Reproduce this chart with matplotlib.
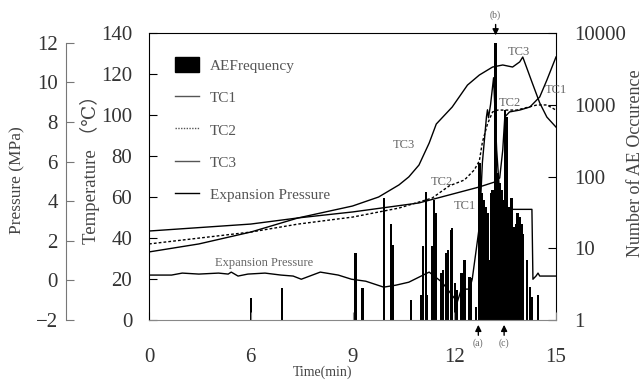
import numpy as np
import matplotlib
matplotlib.use('Agg')
from matplotlib import pyplot as plt
from matplotlib.patches import Patch
from matplotlib.lines import Line2D

plt.rcParams['font.family'] = ['Liberation Serif', 'DejaVu Serif', 'Noto Sans CJK JP']

# --- data ---
ae_time = [6.00, 6.92, 9.09, 9.30, 9.92, 10.13, 10.19, 10.72, 11.02, 11.08, 11.17, 11.20,
           11.35, 11.41, 11.47, 11.61, 11.67, 11.76, 11.82, 11.91, 11.94, 12.03, 12.09,
           12.21, 12.30, 12.45, 12.50, 12.65, 12.74, 12.80, 12.86, 12.92, 12.98, 13.04,
           13.10, 13.13, 13.22, 13.28, 13.34, 13.40, 13.46, 13.49, 13.54, 13.57, 13.63,
           13.69, 13.72, 13.78, 13.84, 13.87, 13.93, 13.99, 14.02, 14.14, 14.23, 14.29, 14.47]
ae_count = [2, 2.8, 8.6, 2.8, 50, 22, 11, 1.9, 2.2, 10.7, 61, 2.2,
            10.7, 47, 31, 4.5, 5, 8.6, 9.5, 18, 19, 3.3, 2.6,
            4.5, 6.9, 4, 3.8, 1.5, 154, 59, 47, 38, 31, 6.9,
            59, 65, 7250, 112, 81, 65, 47, 845, 676, 31, 38,
            50, 14, 20, 22, 31, 27, 22, 16, 6.9, 2.9, 2.1, 2.2]

tc1_time = [0, 6, 7.40, 9, 10.96, 12.74, 13.19, 13.34, 13.43, 13.49, 13.63, 13.93, 14.23, 14.52, 14.73, 15]
tc1_temp = [43.4, 46.8, 49.8, 52.7, 57.1, 64.9, 67.3, 69.3, 82.9, 99.0, 101.5, 102.4, 103.9, 108.8, 117.0, 128.3]

tc2_time = [0, 6, 7.40, 9, 10.37, 11.35, 11.85, 12.30, 12.59, 12.74, 12.83, 12.98, 13.13, 13.28, 13.84, 14.08, 14.44, 14.73, 15]
tc2_temp = [37.1, 42.9, 46.8, 50.2, 54.6, 59.5, 65.4, 68.3, 73.2, 77.6, 86.8, 95.6, 101.5, 102.4, 102.4, 103.4, 104.9, 104.9, 102.4]

tc3_time = [0, 2.94, 6, 7.40, 9, 9.77, 10.37, 10.66, 10.96, 11.26, 11.47, 11.94, 12.39, 12.74,
            13.13, 13.43, 13.72, 13.93, 14.02, 14.29, 14.52, 14.73, 15]
tc3_temp = [33.2, 37.1, 42.9, 49.8, 55.6, 60.0, 65.9, 69.8, 75.6, 86.3, 95.6, 103.9, 114.6, 119.5,
            123.4, 124.4, 123.4, 125.9, 128.3, 116.1, 105.9, 99.0, 94.1]

p_time = [0, 1.33, 1.96, 2.94, 4.10, 4.67, 4.85, 5.25, 5.83, 6.42, 6.89, 7.25, 7.49, 8.05, 8.58,
          8.97, 9.39, 9.92, 10.28, 10.66, 11.26, 11.64, 12.09, 12.21, 12.45, 12.53, 12.65, 12.74,
          12.83, 12.95, 12.98, 13.01, 13.07, 13.16, 13.25, 13.40, 13.54, 13.69, 14.29, 14.32,
          14.41, 14.47, 14.52, 15]
p_mpa = [0.27, 0.27, 0.37, 0.32, 0.37, 0.32, 0.42, 0.22, 0.32, 0.37, 0.27, 0.22, 0.06, 0.42, 0.27,
         0.06, -0.04, -0.34, -0.24, -0.09, 0.42, -0.09, -1.09, -0.44, -0.44, 0.06, 1.58, 2.73,
         5.96, 8.27, 8.62, 8.22, 8.88, 10.24, 6.61, 2.83, 3.09, 3.59, 3.59, 0.06,
         0.22, 0.37, 0.22, 0.22]

x_ticks = [0, 6, 9, 12, 15]
temp_ticks = [0, 20, 40, 60, 80, 100, 120, 140]
p_ticks = [-2, 0, 2, 4, 6, 8, 10, 12]
ae_ticks = [1, 10, 100, 1000, 10000]


# time axis: 0-6 squeezed into the same width as 6-9, 9-12, 12-15
def fwd(x):
    x = np.asarray(x, dtype=float)
    return np.where(x < 6, x / 6.0, 1 + (x - 6) / 3.0)


def inv(u):
    u = np.asarray(u, dtype=float)
    return np.where(u < 1, u * 6.0, 6 + (u - 1) * 3.0)


txt = '#333333'
grey = '#666666'

fig = plt.figure(figsize=(6.44, 3.81), dpi=100)
ax = fig.add_axes([149 / 644, 1 - 320 / 381, 407 / 644, 287 / 381])
ax.set_xscale('function', functions=(fwd, inv))
axb = ax.twinx()
axp = ax.twinx()
axb.set_zorder(1)
ax.set_zorder(2)
axp.set_zorder(3)
ax.patch.set_visible(False)
axp.patch.set_visible(False)

# AE bars (log scale, from 1)
axb.bar(ae_time, np.array(ae_count) - 1, bottom=1, width=0.07, color='black', linewidth=0)
axb.set_yscale('log')
axb.set_ylim(1, 10000)
axb.set_yticks(ae_ticks)
axb.set_yticklabels(['1', '10', '100', '1000', '10000'])
axb.yaxis.set_minor_locator(plt.NullLocator())
axb.tick_params(axis='y', direction='in', length=6, pad=13, labelsize=15, labelcolor=txt)
for s in ['left', 'top', 'bottom']:
    axb.spines[s].set_visible(False)

# temperatures
ax.plot(tc1_time, tc1_temp, color='black', lw=1.0)
ax.plot(tc2_time, tc2_temp, color='black', lw=1.0, ls=(0, (2, 1.5)))
ax.plot(tc3_time, tc3_temp, color='black', lw=1.0)
ax.set_ylim(0, 140)
ax.set_yticks(temp_ticks)
ax.set_xlim(0, 15)
ax.set_xticks(x_ticks)
ax.xaxis.set_minor_locator(plt.NullLocator())
ax.tick_params(axis='y', direction='in', length=6, pad=12, labelsize=15, labelcolor=txt)
ax.tick_params(axis='x', direction='in', length=6, pad=20, labelsize=15, labelcolor=txt, color='#888888')
ax.spines['bottom'].set_color('#888888')
ax.spines['right'].set_visible(False)

# expansion pressure on an offset left axis
axp.plot(p_time, p_mpa, color='black', lw=1.0)
axp.set_ylim(-1.95, 12.5)
axp.set_yticks(p_ticks)
axp.yaxis.tick_left()
for s in ['right', 'top', 'bottom']:
    axp.spines[s].set_visible(False)
axp.spines['left'].set_visible(True)
axp.spines['left'].set_position(('outward', 83 * 0.72))
axp.spines['left'].set_bounds(-2, 12)
axp.spines['left'].set_color('#777777')
axp.tick_params(axis='y', direction='in', length=6, pad=6, labelsize=15, labelcolor=txt, color='#777777')

# axis titles
fig.text(17 / 644, 1 - 180 / 381, 'Pressure (MPa)', rotation=90, ha='center', va='center',
         fontsize=12.5, color='#444444')
fig.text(90 / 644, 1 - 165 / 381, 'Temperature （℃）', rotation=90, ha='center', va='center',
         fontsize=13.5, color='#444444')
fig.text(635 / 644, 1 - 163 / 381, 'Number of AE Occurence', rotation=90, ha='center', va='center',
         fontsize=13, color='#444444')
fig.text(323 / 644, 1 - 372 / 381, 'Time(min)', ha='center', va='center', fontsize=10, color='#444444')

# curve labels
for x, y, s in [(10.51, 85.4, 'TC3'), (11.64, 67.3, 'TC2'), (12.30, 55.6, 'TC1'),
                (13.9, 130.7, 'TC3'), (13.63, 105.9, 'TC2'), (15.0, 112, 'TC1')]:
    ax.text(x, y, s, fontsize=9, color=grey, ha='center', va='center')
ax.text(6.39, 27.8, 'Expansion Pressure', fontsize=9, color=grey, ha='center', va='center')

# event markers
for x, s in [(12.71, '(a)'), (13.47, '(c)')]:
    ax.annotate('', xy=(x, -1), xytext=(x, -8.8), annotation_clip=False,
                arrowprops=dict(arrowstyle='-|>', color='black', lw=1.0, mutation_scale=9))
    ax.text(x, -11.5, s, fontsize=7, color=grey, ha='center', va='center', clip_on=False)
ax.annotate('', xy=(13.22, 137.5), xytext=(13.22, 145.5), annotation_clip=False,
            arrowprops=dict(arrowstyle='-|>', color='black', lw=1.0, mutation_scale=9))
ax.text(13.22, 148.8, '(b)', fontsize=7, color=grey, ha='center', va='center', clip_on=False)

# legend
handles = [Patch(facecolor='black', edgecolor='black'),
           Line2D([], [], color='#555555', lw=1.0),
           Line2D([], [], color='#555555', lw=1.0, ls=(0, (1, 1))),
           Line2D([], [], color='#555555', lw=1.0),
           Line2D([], [], color='black', lw=1.0)]
labels = ['AEFrequency', 'TC1', 'TC2', 'TC3', 'Expansion Pressure']
ax.legend(handles, labels, loc='upper left', bbox_to_anchor=(0.064, 0.915), frameon=False,
          fontsize=11, labelcolor='#555555', labelspacing=1.1, handlelength=1.6,
          handleheight=1.1, handletextpad=0.7, borderpad=0, borderaxespad=0)

fig.savefig('out.png', dpi=100)
